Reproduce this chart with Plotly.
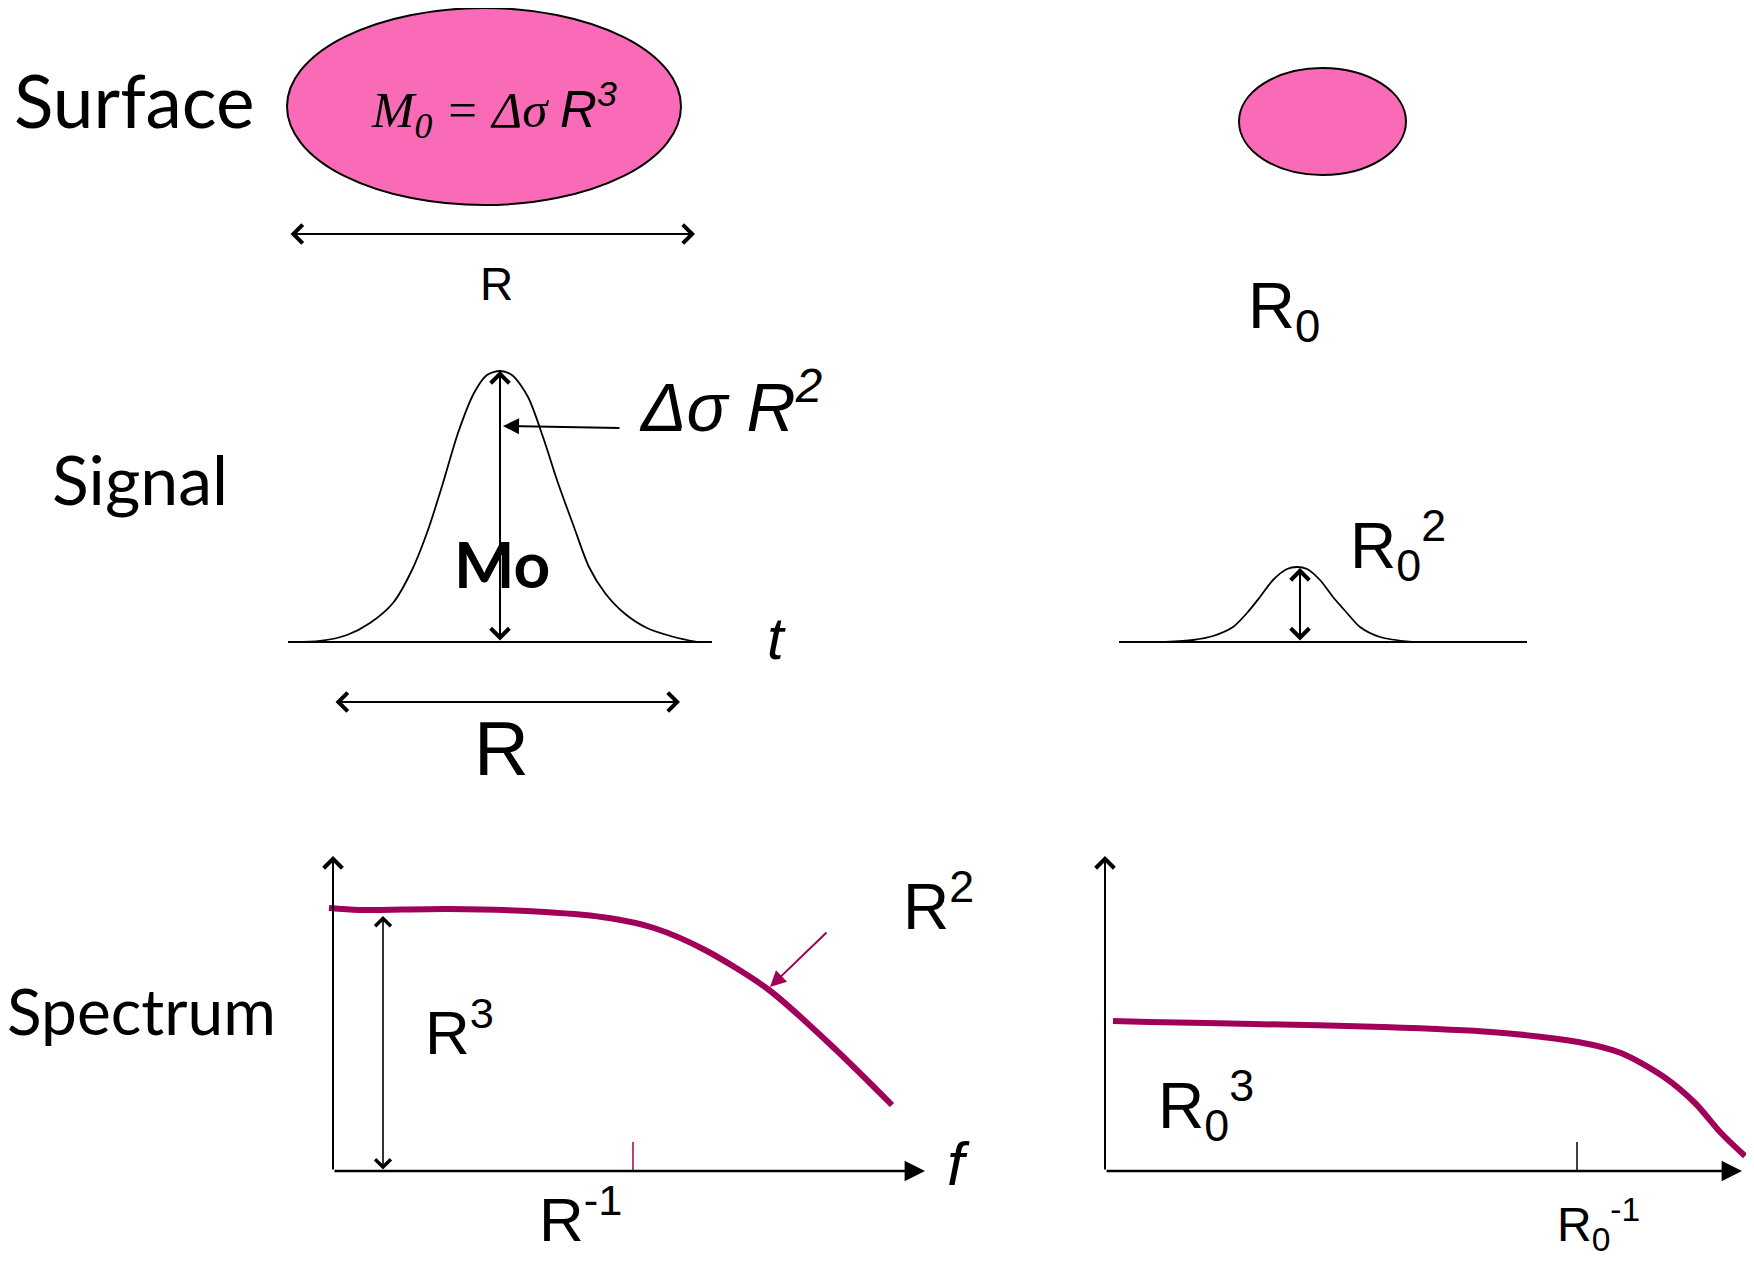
import plotly.graph_objects as go

# ---------------- data (page-pixel coordinates) ----------------
PINK = "#F96BB6"
PURPLE = "#A0005A"

# ellipses (surface patches)
big_patch_x = [287, 681]
big_patch_y = [8, 205]
small_patch_x = [1239, 1406]
small_patch_y = [68, 175]

# big signal pulse
sig_big_x = [294, 320, 347, 370, 393, 412, 428, 443, 458, 474, 487, 500, 512, 528, 543, 558, 574, 589, 605, 624, 647, 674, 697]
sig_big_y = [642, 641, 635, 623, 603, 570, 530, 483, 433, 393, 375, 371, 375, 397, 437, 483, 527, 567, 593, 613, 628, 637, 642]
sig_big_base_x = [288, 712]
sig_base_y = [642, 642]

# small signal pulse
sig_small_x = [1165, 1193, 1213, 1233, 1247, 1260, 1273, 1287, 1297, 1307, 1320, 1333, 1347, 1360, 1380, 1412]
sig_small_y = [642, 640, 636, 627, 613, 597, 580, 569, 567, 569, 580, 597, 613, 627, 637, 642]
sig_small_base_x = [1119, 1527]

# spectra
spec_big_x = [329, 359, 449, 545, 609, 654, 705, 769, 833, 892]
spec_big_y = [908, 910, 909, 912, 918, 928, 950, 990, 1047, 1105]
spec_small_x = [1113, 1149, 1253, 1383, 1491, 1578, 1621, 1664, 1695, 1721, 1745]
spec_small_y = [1021, 1022, 1024, 1027, 1032, 1042, 1053, 1077, 1103, 1133, 1156]

# axes of the spectra: (origin x, origin y, x-arrow tip, y-arrow tip)
spec_axes = [(333, 1171, 925, 856), (1105, 1171, 1742, 856)]
corner_ticks = [(633, 1142, 1171, PURPLE), (1577, 1142, 1171, "black")]

# ---------------- figure ----------------
OFF = 8  # default page margin of the html body
W, H = 1754 - 2 * OFF, 1262 - 2 * OFF

fig = go.Figure()

def line(xs, ys, color="black", width=2, shape="linear"):
    fig.add_trace(go.Scatter(x=xs, y=ys, mode="lines", cliponaxis=False,
                             line=dict(color=color, width=width, shape=shape,
                                       smoothing=0.8), hoverinfo="skip"))

# ellipses
for ex, ey in [(big_patch_x, big_patch_y), (small_patch_x, small_patch_y)]:
    fig.add_shape(type="circle", xref="x", yref="y", x0=ex[0], x1=ex[1], y0=ey[0], y1=ey[1],
                  fillcolor=PINK, line=dict(color="black", width=2), layer="below")

# signals
line(sig_big_base_x, sig_base_y)
line(sig_big_x, sig_big_y, width=1.8, shape="spline")
line(sig_small_base_x, sig_base_y)
line(sig_small_x, sig_small_y, width=1.8, shape="spline")

# spectra curves
line(spec_big_x, spec_big_y, color=PURPLE, width=6, shape="spline")
line(spec_small_x, spec_small_y, color=PURPLE, width=6, shape="spline")

for tx, t0, t1, c in corner_ticks:
    line([tx, tx], [t0, t1], color=c, width=1.5)

def arrow(x0, y0, x1, y1, color="black", width=2, head=4, size=1.8, both=False):
    fig.add_annotation(x=x1, y=y1, ax=x0, ay=y0, xref="x", yref="y", axref="x", ayref="y",
                       text="", showarrow=True, arrowhead=head, arrowsize=size,
                       arrowwidth=width, arrowcolor=color, standoff=0, startstandoff=0,
                       arrowside="end+start" if both else "end",
                       startarrowhead=head, startarrowsize=size)

# double arrows
arrow(289, 234, 695, 234, both=True)          # surface R
arrow(500, 642, 500, 371, both=True)          # M0
arrow(334, 702, 680, 702, both=True)          # signal R
arrow(1300, 642, 1300, 568, both=True)        # small pulse
arrow(383, 1171, 383, 916, both=True, width=1.6, size=1.9)  # R^3
# pointers
arrow(621, 428, 503, 426, width=2, head=2, size=1.6)            # ΔσR²
arrow(828, 931, 770, 987, color=PURPLE, width=2, head=2, size=1.6)  # R² slope

# spectra axes
for ox, oy, xt, yt in spec_axes:
    arrow(ox, oy, ox, yt, width=2, head=4, size=1.8)
    arrow(ox, oy, xt, oy, width=2.4, head=2, size=1.7)

# ---------------- text ----------------
HAND = "Lato"
SANS = "Liberation Sans"
SERIF = "Liberation Serif"

def label(text, x, y, size, family=SANS, xanchor="center", yanchor="middle", color="black"):
    fig.add_annotation(x=x, y=y, xref="x", yref="y", text=text, showarrow=False,
                       xanchor=xanchor, yanchor=yanchor,
                       font=dict(family=family, size=size, color=color))

label("Surface", 134, 100, 73, HAND)
label("Signal", 140, 478, 68, HAND)
label("Spectrum", 141, 1010, 64, HAND)

label("<i>M<sub>0</sub> = Δσ</i> <span style='font-family:Liberation Sans'><i>R<sup>3</sup></i></span>",
      494, 110, 51, SERIF)
label("R", 496, 284, 46)
label("R<sub>0</sub>", 1284, 310, 65)

label("<i>Δσ R<sup>2</sup></i>", 637, 402, 68, xanchor="left")
label("<b>Mo</b>", 502, 563, 64, HAND)
label("<i>t</i>", 776, 638, 60)
label("R", 501, 748, 76)
label("R<sub>0</sub><sup>2</sup>", 1348, 545, 64, xanchor="left")

label("R<sup>2</sup>", 901, 902, 64, xanchor="left")
label("R<sup>3</sup>", 423, 1028, 62, xanchor="left")
label("<i>f</i>", 958, 1163, 62)
label("R<sup>-1</sup>", 537, 1215, 62, xanchor="left")
label("R<sub>0</sub><sup>3</sup>", 1156, 1105, 64, xanchor="left")
label("R<sub>0</sub><sup>-1</sup>", 1555, 1224, 48, xanchor="left")

fig.update_layout(
    width=W, height=H, margin=dict(l=0, r=0, t=0, b=0),
    paper_bgcolor="white", plot_bgcolor="white", showlegend=False,
    xaxis=dict(range=[OFF, OFF + W], visible=False, fixedrange=True),
    yaxis=dict(range=[OFF + H, OFF], visible=False, fixedrange=True),
)

fig.write_html("out.html")
